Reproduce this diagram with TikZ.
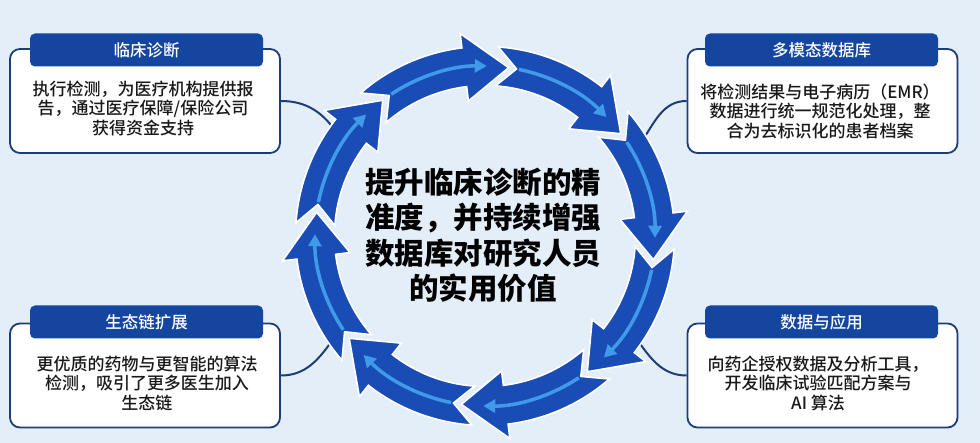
\documentclass[tikz,border=0pt]{standalone}
\usepackage{fontspec}
\setmainfont{Noto Sans CJK SC}
\IfFontExistsTF{Noto Sans CJK SC Medium}
  {\newfontfamily\bodyfont{Noto Sans CJK SC Medium}}
  {\newfontfamily\bodyfont{Noto Sans CJK SC}}
\IfFontExistsTF{Noto Sans CJK SC Black}
  {\newfontfamily\goalfont{Noto Sans CJK SC Black}}
  {\newfontfamily\goalfont{Noto Sans CJK SC}[FakeBold=1.5]}
\usetikzlibrary{arrows.meta,calc}
\definecolor{bgblue}{HTML}{E4EEF9}
\definecolor{ringblue}{HTML}{1A4CB6}
\definecolor{ringlight}{HTML}{3F9BEA}
\definecolor{headblue}{HTML}{1446A0}
\definecolor{framenavy}{HTML}{1D3D78}

\begin{document}
\begin{tikzpicture}[
    x=1pt, y=1pt,
    infobox/.style={
      rectangle, draw=framenavy, line width=1.8pt, fill=white,
      rounded corners=10pt, minimum width=270pt, minimum height=104pt, inner sep=0pt
    },
    infohead/.style={
      rectangle, fill=headblue, rounded corners=5pt, minimum width=233pt,
      minimum height=33pt, inner sep=0pt, text=white, font=\bodyfont\fontsize{16.5}{18}\selectfont
    },
    bodytext/.style={
      align=center, inner sep=0pt, text=black!90, font=\bodyfont\fontsize{17}{19.5}\selectfont
    },
    goaltext/.style={
      align=center, inner sep=0pt, text=black, font=\goalfont\fontsize{29.5}{35.5}\selectfont
    },
    link/.style={framenavy, line width=2pt},
    ringseg/.style={fill=ringblue, draw=white, line width=1.6pt, line join=miter},
    ringline/.style={ringlight, line width=3.5pt, -{Triangle[length=12pt,width=13pt]}},
]
\useasboundingbox (0,0) rectangle (980,443);
\fill[bgblue] (0,0) rectangle (980,443);

% ===== RING CENTRE AND LINK ENDS =====
\coordinate (ctr) at (485,207);
\coordinate (diagend) at ($(ctr)+(145:182)$);
\coordinate (emrend) at ($(ctr)+(31:182)$);
\coordinate (ecoend) at ($(ctr)+(214:182)$);
\coordinate (append) at ($(ctr)+(326:182)$);

% ===== CORNER BOXES =====
\node[infobox] (diag) at (145,342) {};
\node[infobox] (emr) at (822.5,342) {};
\node[infobox] (eco) at (145,67.5) {};
\node[infobox] (app) at (822.5,67.5) {};

% ===== LINKS (box -> ring) =====
\draw[link] (diag.east) to[out=0, in=125] (diagend);
\draw[link] (emr.west) to[out=180, in=55] (emrend);
\draw[link] (eco.east) to[out=0, in=235] (ecoend);
\draw[link] (app.west) to[out=180, in=305] (append);

% ===== CYCLE OF ARROWS (clockwise) =====
\begin{scope}[shift={(ctr)}]
  \foreach \a in {82,37,-8,-53,-98,-143,-188,-233}{
    \filldraw[ringseg] (\a:170) -- (\a+15:204) -- (\a+15:189.5)
      arc[start angle=\a+15, end angle=\a+49, radius=189.5]
      -- (\a+42.3:170) -- (\a+49:150.5)
      arc[start angle=\a+49, end angle=\a+15, radius=150.5]
      -- (\a+15:136) -- cycle;
    \draw[ringline] (\a+41.5:170) arc[start angle=\a+41.5, end angle=\a+7.4, radius=170];
  }
\end{scope}

% ===== HEADERS =====
\node[infohead] (diaghead) at (146.5,393) {临床诊断};
\node[infohead] (emrhead) at (821.5,393) {多模态数据库};
\node[infohead] (ecohead) at (146.5,121) {生态链扩展};
\node[infohead] (apphead) at (821.5,121) {数据与应用};

% ===== BOX TEXTS =====
\node[bodytext] (diagtxt) at (143,335) {执行检测，为医疗机构提供报\\告，通过医疗保障/保险公司\\获得资金支持};
\node[bodytext] (emrtxt) at (820,332) {将检测结果与电子病历（EMR）\\数据进行统一规范化处理，整\\合为去标识化的患者档案};
\node[bodytext] (ecotxt) at (147,60) {更优质的药物与更智能的算法\\检测，吸引了更多医生加入\\生态链};
\node[bodytext] (apptxt) at (818,60) {向药企授权数据及分析工具，\\开发临床试验匹配方案与\\AI 算法};

% ===== GOAL IN THE MIDDLE =====
\node[goaltext] (goal) at (483,208) {提升临床诊断的精\\准度，并持续增强\\数据库对研究人员\\的实用价值};

\end{tikzpicture}
\end{document}
